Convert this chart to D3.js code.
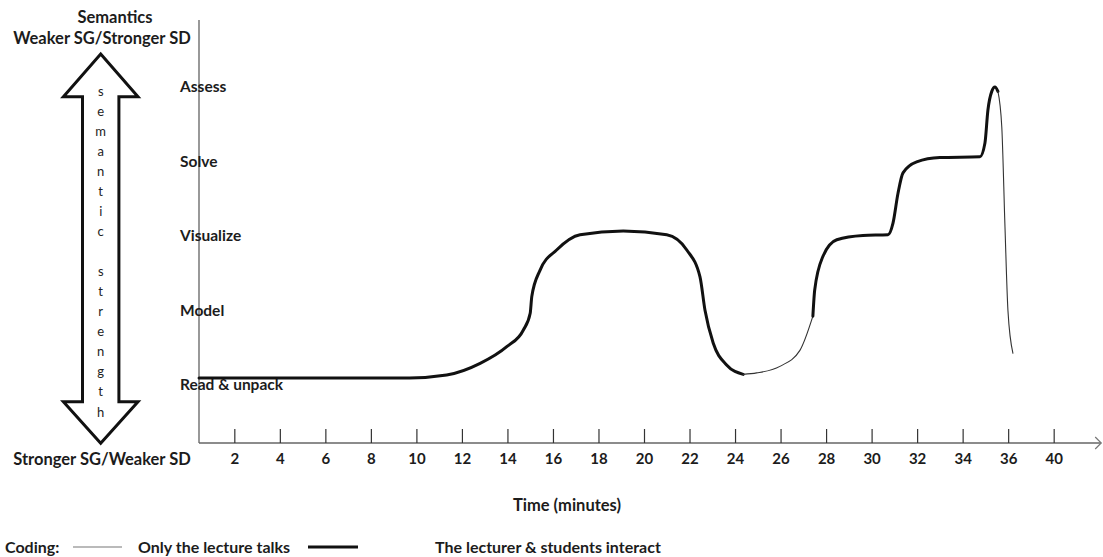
<!DOCTYPE html>
<html lang="en">
<head>
<meta charset="UTF-8" />
<title>semantic wave</title>
<style>
  body { margin: 0; background: #fff; }
  svg text { font-family: Lato, "Open Sans", sans-serif; font-weight: bold; fill: #1c1c1c; }
</style>
</head>
<body>
<svg id="chart" width="1103" height="557"></svg>
<script src="https://cdn.jsdelivr.net/npm/d3@7/dist/d3.min.js"></script>
<script>
  // semantic levels, bottom to top
  var levels = ['Read & unpack', 'Model', 'Visualize', 'Solve', 'Assess'];

  // time ticks (the last tick is labelled 40 in the original)
  var tickValues = [2, 4, 6, 8, 10, 12, 14, 16, 18, 20, 22, 24, 26, 28, 30, 32, 34, 36, 38];
  var tickLabels = ['2', '4', '6', '8', '10', '12', '14', '16', '18', '20', '22', '24', '26', '28', '30', '32', '34', '36', '40'];

  // [minute, level] — lecturer & students interact
  var interact1 = [[0.45, 0], [9.7, 0], [11.33, 0.04], [12.8, 0.2], [13.97, 0.43], [14.7, 0.66], [15.0, 0.89],
    [15.07, 1.12], [15.43, 1.48], [16.16, 1.76], [17.19, 1.97], [19.09, 2.02], [21.0, 1.97], [21.88, 1.76],
    [22.46, 1.39], [22.68, 0.93], [23.04, 0.48], [23.63, 0.18], [24.36, 0.05]];
  // only the lecturer talks
  var talk1 = [[24.36, 0.05], [24.95, 0.07], [25.97, 0.16], [26.85, 0.38], [27.42, 0.85]];
  var interact2 = [[27.42, 0.85], [27.5, 1.21], [27.86, 1.67], [28.47, 1.9], [29.62, 1.96], [30.72, 1.97],
    [30.94, 2.13], [31.16, 2.54], [31.38, 2.82], [31.98, 2.97], [33.0, 3.03], [34.76, 3.04], [34.98, 3.23],
    [35.11, 3.68], [35.28, 3.94], [35.42, 4.0], [35.55, 3.94]];
  var talk2 = [[35.55, 3.94], [35.72, 3.45], [35.86, 2.08], [35.99, 0.93], [36.21, 0.34]];

  var axisX = 199, axisTop = 20, axisY = 443;

  var svg = d3.select('#chart');

  var x = d3.scaleLinear().domain([0, 40]).range([188.8, 1099.2]);
  var y = d3.scaleLinear().domain([0, 4]).range([378, 87]);
  var yLabel = d3.scalePoint().domain(levels.slice().reverse()).range([87, 385]);

  // axes
  svg.append('line')
    .attr('x1', axisX).attr('x2', axisX).attr('y1', axisTop).attr('y2', axisY)
    .attr('stroke', '#444').attr('stroke-width', 1.1);
  svg.append('line')
    .attr('x1', axisX).attr('x2', x(40) + 2).attr('y1', axisY).attr('y2', axisY)
    .attr('stroke', '#666').attr('stroke-width', 1.3);
  svg.append('path')
    .attr('d', `M${x(40) - 4},${axisY - 6}L${x(40) + 2},${axisY}L${x(40) - 4},${axisY + 6}`)
    .attr('fill', 'none').attr('stroke', '#777').attr('stroke-width', 1.2);

  var xAxis = d3.axisBottom(x)
    .tickValues(tickValues)
    .tickFormat((d, i) => tickLabels[i])
    .tickSizeInner(-14)
    .tickSizeOuter(0)
    .tickPadding(10);

  var gx = svg.append('g')
    .attr('transform', `translate(0,${axisY})`)
    .call(xAxis);
  gx.select('.domain').remove();
  gx.attr('font-family', null).attr('font-size', null);
  gx.selectAll('.tick line').attr('stroke', '#333').attr('stroke-width', 1.2);
  gx.selectAll('.tick text').style('font-size', '15px');

  // level labels
  svg.append('g')
    .selectAll('text')
    .data(levels)
    .join('text')
    .attr('x', 180)
    .attr('y', d => yLabel(d))
    .attr('dy', '0.35em')
    .style('font-size', '15.5px')
    .text(d => d);

  // curve
  var line = d3.line()
    .x(d => x(d[0]))
    .y(d => y(d[1]))
    .curve(d3.curveMonotoneX);

  var segments = [
    { pts: interact1, thick: true },
    { pts: talk1, thick: false },
    { pts: interact2, thick: true },
    { pts: talk2, thick: false }
  ];

  svg.append('g')
    .attr('fill', 'none')
    .attr('stroke-linecap', 'round')
    .selectAll('path')
    .data(segments)
    .join('path')
    .attr('d', d => line(d.pts))
    .attr('stroke', d => d.thick ? '#111' : '#333')
    .attr('stroke-width', d => d.thick ? 3 : 1.1);

  // double-headed block arrow
  var cx = 100.7, tip1 = 54, base1 = 96.7, base2 = 401.7, tip2 = 443.3, head = 37.3, shaft = 18.2;
  var arrow = [
    [cx, tip1], [cx + head, base1], [cx + shaft, base1], [cx + shaft, base2], [cx + head, base2],
    [cx, tip2], [cx - head, base2], [cx - shaft, base2], [cx - shaft, base1], [cx - head, base1]
  ];
  svg.append('path')
    .attr('d', d3.line()(arrow) + 'Z')
    .attr('fill', '#fff')
    .attr('stroke', '#111')
    .attr('stroke-width', 3)
    .attr('stroke-linejoin', 'miter');

  var letters = 'semantic strength'.split('');
  svg.append('g')
    .selectAll('text')
    .data(letters)
    .join('text')
    .attr('x', cx)
    .attr('y', (d, i) => 91 + i * 20.06)
    .attr('dy', '0.35em')
    .attr('text-anchor', 'middle')
    .style('font-size', '13px')
    .style('font-weight', 'normal')
    .style('fill', '#222')
    .text(d => d);

  // end labels
  svg.append('text').attr('x', 115).attr('y', 17).attr('dy', '0.35em')
    .attr('text-anchor', 'middle').style('font-size', '16.5px').text('Semantics');
  svg.append('text').attr('x', 102).attr('y', 38).attr('dy', '0.35em')
    .attr('text-anchor', 'middle').style('font-size', '16.5px').text('Weaker SG/Stronger SD');
  svg.append('text').attr('x', 102).attr('y', 459).attr('dy', '0.35em')
    .attr('text-anchor', 'middle').style('font-size', '16.5px').text('Stronger SG/Weaker SD');

  svg.append('text').attr('x', 567).attr('y', 505).attr('dy', '0.35em')
    .attr('text-anchor', 'middle').style('font-size', '16.5px').text('Time (minutes)');

  // legend
  var legendY = 547;
  svg.append('text').attr('x', 5).attr('y', legendY).attr('dy', '0.35em')
    .style('font-size', '16px').text('Coding:');
  svg.append('line').attr('x1', 73).attr('x2', 122).attr('y1', legendY).attr('y2', legendY)
    .attr('stroke', '#777').attr('stroke-width', 1.2);
  svg.append('text').attr('x', 138).attr('y', legendY).attr('dy', '0.35em')
    .style('font-size', '16px').text('Only the lecture talks');
  svg.append('line').attr('x1', 308).attr('x2', 358).attr('y1', legendY).attr('y2', legendY)
    .attr('stroke', '#111').attr('stroke-width', 3.2);
  svg.append('text').attr('x', 435).attr('y', legendY).attr('dy', '0.35em')
    .style('font-size', '16px').text('The lecturer & students interact');
</script>
</body>
</html>
